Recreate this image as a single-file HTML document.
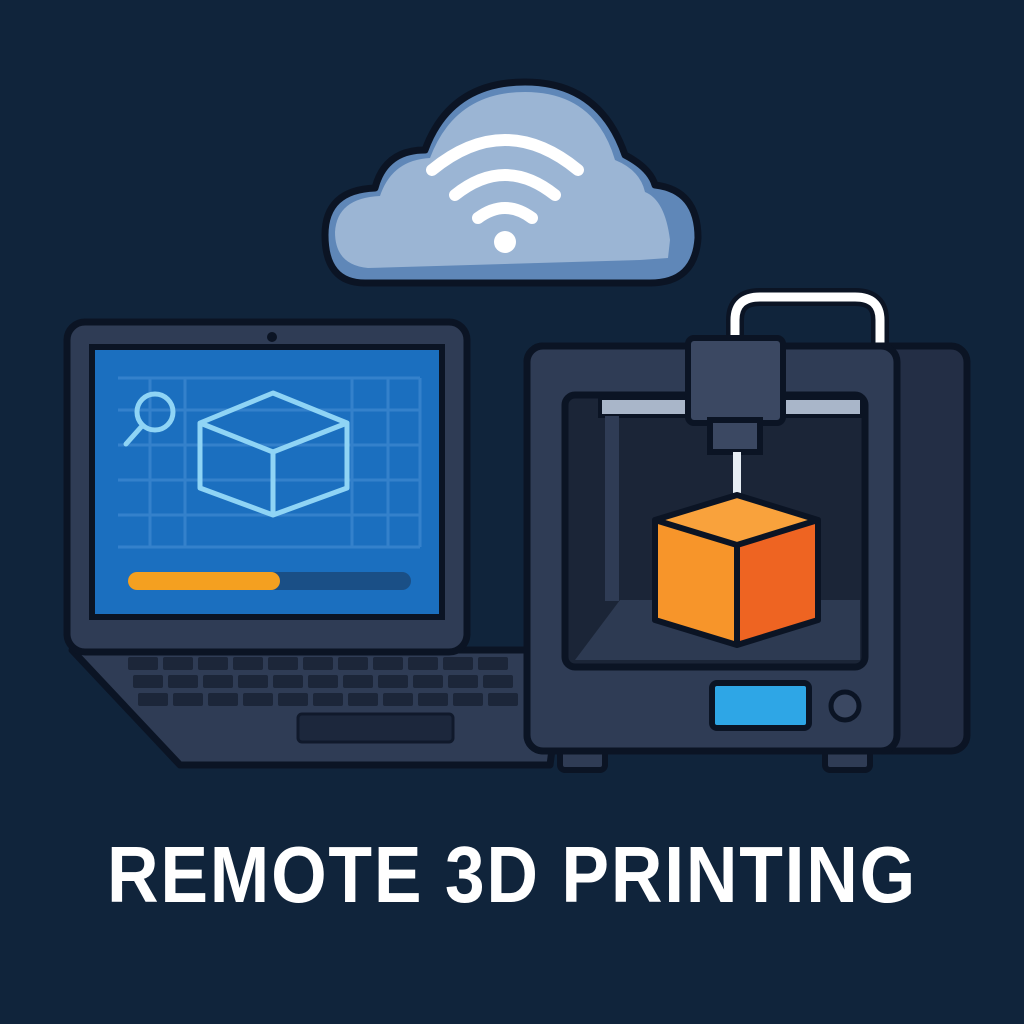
<!DOCTYPE html>
<html><head><meta charset="utf-8"><style>
html,body{margin:0;padding:0;background:#10243b;width:1024px;height:1024px;overflow:hidden}
</style></head><body>
<svg width="1024" height="1024" viewBox="0 0 1024 1024" xmlns="http://www.w3.org/2000/svg">
<rect width="1024" height="1024" fill="#10243b"/>
<!-- cloud -->
<path d="M365 283 Q325 283 325 235 Q325 190 375 188 Q385 150 425 150 Q450 82 525 82 Q600 82 625 155 Q650 168 655 185 Q698 190 698 238 Q695 283 650 283 Z" fill="#5f87b8" stroke="#0b1424" stroke-width="7" stroke-linejoin="round"/>
<path d="M368 268 Q335 265 335 232 Q337 198 380 196 Q392 160 430 158 Q455 92 525 92 Q595 92 615 160 Q640 170 645 192 Q665 200 670 240 L668 258 L640 260 Z" fill="#9bb5d4"/>
<g fill="none" stroke="#fff" stroke-width="12" stroke-linecap="round">
<path d="M432 170 Q505 110 578 170"/>
<path d="M455 195 Q505 155 555 195"/>
<path d="M478 218 Q505 198 532 218"/>
</g>
<circle cx="505" cy="242" r="11" fill="#fff"/>
<!-- laptop base -->
<path d="M72 650 L565 650 L550 765 L180 765 Z" fill="#2f3c55" stroke="#0b1424" stroke-width="7" stroke-linejoin="round"/>
<g fill="#1c2639">
<g id="r1">
<rect x="128" y="657" width="30" height="13" rx="2"/><rect x="163" y="657" width="30" height="13" rx="2"/><rect x="198" y="657" width="30" height="13" rx="2"/><rect x="233" y="657" width="30" height="13" rx="2"/><rect x="268" y="657" width="30" height="13" rx="2"/><rect x="303" y="657" width="30" height="13" rx="2"/><rect x="338" y="657" width="30" height="13" rx="2"/><rect x="373" y="657" width="30" height="13" rx="2"/><rect x="408" y="657" width="30" height="13" rx="2"/><rect x="443" y="657" width="30" height="13" rx="2"/><rect x="478" y="657" width="30" height="13" rx="2"/>
</g>
<use href="#r1" transform="translate(5,18)"/>
<use href="#r1" transform="translate(10,36)"/>
</g>
<rect x="298" y="714" width="155" height="28" rx="4" fill="#1c273c" stroke="#10192b" stroke-width="3"/>
<!-- laptop lid -->
<rect x="67" y="322" width="400" height="330" rx="18" fill="#2f3c55" stroke="#0b1424" stroke-width="7"/>
<circle cx="272" cy="337" r="5" fill="#0b1424"/>
<rect x="92" y="347" width="350" height="270" fill="#1b6fbf" stroke="#0b1424" stroke-width="6"/>
<g stroke="#3b86cf" stroke-width="3" fill="none" opacity="0.8">
<path d="M118 378 H420 M118 410 H420 M118 445 H420 M118 480 H420 M118 515 H420 M118 547 H420"/>
<path d="M150 378 V547 M185 378 V547 M352 378 V547 M388 378 V547 M420 378 V547"/>
</g>
<g stroke="#8fd4f5" stroke-width="5" fill="none" stroke-linejoin="round">
<path d="M200 423 L273 393 L347 423 L347 488 L273 515 L200 488 Z"/>
<path d="M200 423 L273 452 L347 423 M273 452 L273 515"/>
<circle cx="155" cy="412" r="18"/>
<path d="M142 426 L126 444" stroke-linecap="round"/>
</g>
<rect x="128" y="572" width="283" height="18" rx="9" fill="#1a4f86"/>
<rect x="128" y="572" width="152" height="18" rx="9" fill="#f4a020"/>
<!-- printer -->
<rect x="560" y="745" width="45" height="25" rx="5" fill="#2f3c55" stroke="#0b1424" stroke-width="6"/>
<rect x="825" y="745" width="45" height="25" rx="5" fill="#2f3c55" stroke="#0b1424" stroke-width="6"/>
<path d="M735 345 L735 320 Q735 297 760 297 L855 297 Q880 297 880 320 L880 345" stroke="#0b1424" stroke-width="18" fill="none"/>
<path d="M735 345 L735 320 Q735 297 760 297 L855 297 Q880 297 880 320 L880 345" stroke="#fff" stroke-width="9" fill="none"/>
<rect x="527" y="346" width="440" height="405" rx="16" fill="#232e45" stroke="#0b1424" stroke-width="7"/>
<rect x="527" y="346" width="370" height="405" rx="16" fill="#2f3c55" stroke="#0b1424" stroke-width="7"/>
<rect x="565" y="395" width="300" height="272" rx="10" fill="#1b2537" stroke="#0b1424" stroke-width="7"/>
<path d="M575 660 L620 600 L860 600 L860 660 Z" fill="#2d3a52"/>
<rect x="600" y="398" width="262" height="18" fill="#a9b6c9" stroke="#0b1424" stroke-width="4"/>
<rect x="605" y="416" width="14" height="185" fill="#2f3c55"/>
<rect x="688" y="338" width="95" height="85" rx="6" fill="#3b4862" stroke="#0b1424" stroke-width="6"/>
<rect x="710" y="420" width="50" height="32" fill="#3b4862" stroke="#0b1424" stroke-width="6"/>
<rect x="733" y="452" width="8" height="55" fill="#e8eef5"/>
<path d="M655 520 L737 495 L818 520 L818 620 L737 645 L655 620 Z" fill="#f7952a"/>
<path d="M737 545 L818 520 L818 620 L737 645 Z" fill="#ee6422"/>
<path d="M655 520 L737 495 L818 520 L737 545 Z" fill="#f9a23c"/>
<path d="M655 520 L737 545 L818 520 M737 545 L737 645 M655 520 L737 495 L818 520 L818 620 L737 645 L655 620 Z" fill="none" stroke="#0b1424" stroke-width="6" stroke-linejoin="round"/>
<rect x="712" y="683" width="97" height="45" rx="5" fill="#2ea6e6" stroke="#0b1424" stroke-width="6"/>
<circle cx="845" cy="706" r="14" fill="#3b4862" stroke="#0b1424" stroke-width="5"/>
<text x="512" y="902" text-anchor="middle" font-family="'Liberation Sans',sans-serif" font-weight="bold" font-size="80" fill="#fff" letter-spacing="2" textLength="810" lengthAdjust="spacingAndGlyphs">REMOTE 3D PRINTING</text>
</svg>
</body></html>
